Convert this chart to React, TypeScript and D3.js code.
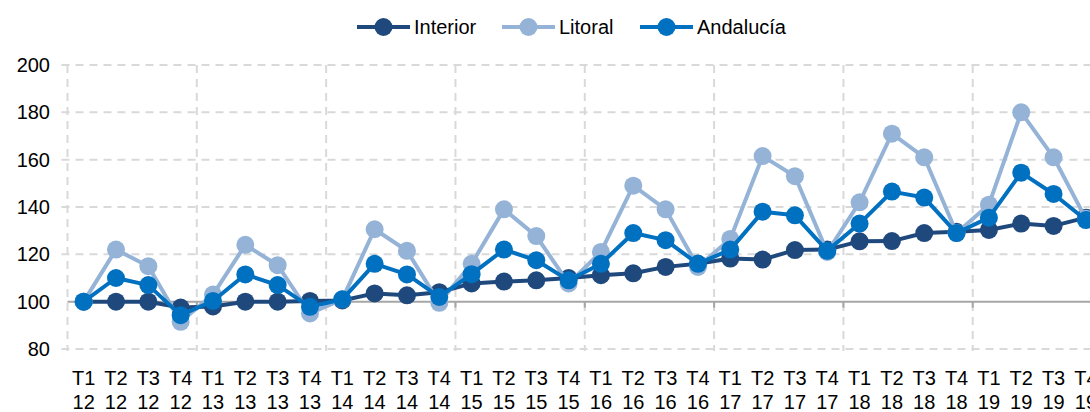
import { useEffect, useRef } from 'react';
import * as d3 from 'd3';

// quarters T1..T4 for years 12..19
const quarters = ['T1', 'T2', 'T3', 'T4'];
const years = ['12', '13', '14', '15', '16', '17', '18', '19'];
const categories = years.flatMap(y => quarters.map(q => `${q} ${y}`));

const interior = [100, 100, 100, 97.5, 98, 100, 100, 100.3, 100.5, 103.5, 102.7, 104, 107.7, 108.5, 109, 110,
  111.2, 112, 114.7, 116, 118.2, 117.8, 121.8, 122, 125.5, 125.6, 129, 129.5, 130.3, 133, 132, 135.5];
const litoral = [100, 122, 115, 91.5, 103, 124, 115.4, 95, 101, 130.6, 121.5, 99.5, 116, 139, 127.7, 107.7,
  121, 149, 139, 114.7, 126.5, 161.5, 153, 121, 142, 171, 161, 129, 141, 180, 161, 135];
const andalucia = [100, 110, 107, 94.3, 100.3, 111.5, 107, 97.8, 101, 116, 111.5, 102, 111.6, 122, 117.5, 109,
  116, 129, 126, 116, 122, 138, 136.5, 121.5, 133, 146.5, 144, 129, 135.5, 154.5, 145.5, 134.5];

const yTicks = [80, 100, 120, 140, 160, 180, 200];

const series = [
  { name: 'Interior', values: interior, color: '#1f497d' },
  { name: 'Litoral', values: litoral, color: '#95b3d7' },
  { name: 'Andalucía', values: andalucia, color: '#0070c0' },
];

const FONT = '"Liberation Sans Narrow", "Arial Narrow", sans-serif';

const App = () => {
  const svgRef = useRef<SVGSVGElement>(null);

  useEffect(() => {
    if (!svgRef.current) return;
    const svg = d3.select(svgRef.current);
    svg.selectAll('*').remove();

    const width = 1090;
    const left = 67.5;
    const band = 32.33;
    const top = 65;
    const bottom = 349;

    const x = d3.scaleBand<string>()
      .domain(categories)
      .range([left, left + band * categories.length]);
    const cx = (d: string) => (x(d) as number) + x.bandwidth() / 2;

    const y = d3.scaleLinear().domain([80, 200]).range([bottom, top]);

    // horizontal grid
    svg.append('g')
      .selectAll('line')
      .data(yTicks.filter(t => t !== 100))
      .enter()
      .append('line')
      .attr('x1', left - 6)
      .attr('x2', width)
      .attr('y1', d => y(d))
      .attr('y2', d => y(d))
      .attr('stroke', '#d9d9d9')
      .attr('stroke-width', 2)
      .attr('stroke-dasharray', '8,6');

    // vertical grid every year
    const yearStarts = categories.filter((_, i) => i % 4 === 0);
    svg.append('g')
      .selectAll('line')
      .data(yearStarts)
      .enter()
      .append('line')
      .attr('x1', d => x(d) as number)
      .attr('x2', d => x(d) as number)
      .attr('y1', top)
      .attr('y2', bottom + 2)
      .attr('stroke', '#d9d9d9')
      .attr('stroke-width', 2)
      .attr('stroke-dasharray', '8,6');

    // axis line at 100 with small ticks
    svg.append('line')
      .attr('x1', left)
      .attr('x2', width)
      .attr('y1', y(100))
      .attr('y2', y(100))
      .attr('stroke', '#a6a6a6')
      .attr('stroke-width', 2);
    svg.append('g')
      .selectAll('line')
      .data(yearStarts.slice(1))
      .enter()
      .append('line')
      .attr('x1', d => x(d) as number)
      .attr('x2', d => x(d) as number)
      .attr('y1', y(100))
      .attr('y2', y(100) + 6)
      .attr('stroke', '#a6a6a6')
      .attr('stroke-width', 2);

    // y labels
    svg.append('g')
      .selectAll('text')
      .data(yTicks)
      .enter()
      .append('text')
      .attr('x', 50)
      .attr('y', d => y(d))
      .attr('dy', '0.35em')
      .attr('text-anchor', 'end')
      .attr('fill', '#000')
      .style('font-family', FONT)
      .style('font-size', '20px')
      .text(d => d);

    // x labels (two lines)
    const xl = svg.append('g')
      .selectAll('text')
      .data(categories)
      .enter()
      .append('text')
      .attr('x', d => cx(d))
      .attr('text-anchor', 'middle')
      .attr('fill', '#000')
      .style('font-family', FONT)
      .style('font-size', '20px');
    xl.append('tspan').attr('x', d => cx(d)).attr('y', 385).text(d => d.split(' ')[0]);
    xl.append('tspan').attr('x', d => cx(d)).attr('y', 409).text(d => d.split(' ')[1]);

    // series
    const line = d3.line<number>()
      .x((_, i) => cx(categories[i]))
      .y(d => y(d));

    series.forEach(s => {
      const g = svg.append('g');
      g.append('path')
        .datum(s.values)
        .attr('fill', 'none')
        .attr('stroke', s.color)
        .attr('stroke-width', 4)
        .attr('stroke-linejoin', 'round')
        .attr('d', line);
      g.selectAll('circle')
        .data(s.values)
        .enter()
        .append('circle')
        .attr('cx', (_, i) => cx(categories[i]))
        .attr('cy', d => y(d))
        .attr('r', 9)
        .attr('fill', s.color);
    });

    // legend
    const legendX = [357, 502, 640];
    const legend = svg.append('g')
      .selectAll('g')
      .data(series)
      .enter()
      .append('g')
      .attr('transform', (_, i) => `translate(${legendX[i]},27)`);
    legend.append('line')
      .attr('x1', 0)
      .attr('x2', 53)
      .attr('stroke', d => d.color)
      .attr('stroke-width', 4);
    legend.append('circle')
      .attr('cx', 26.5)
      .attr('r', 9)
      .attr('fill', d => d.color);
    legend.append('text')
      .attr('x', 57)
      .attr('dy', '0.35em')
      .attr('fill', '#000')
      .style('font-family', FONT)
      .style('font-size', '20px')
      .text(d => d.name);
  }, []);

  return (
    <svg
      ref={svgRef}
      width={1090}
      height={412}
      style={{ position: 'absolute', left: 0, top: 0, background: '#fff' }}
    />
  );
};

export default App;
